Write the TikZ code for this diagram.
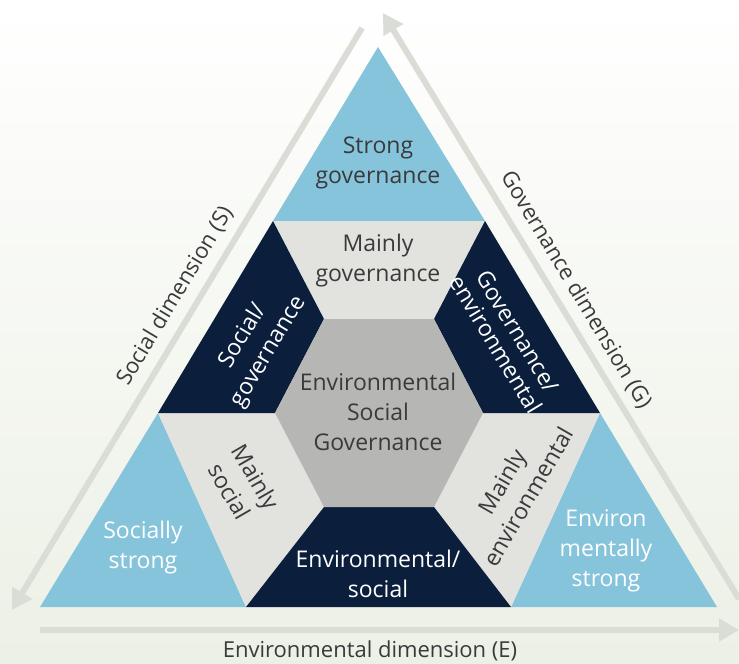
\documentclass[tikz,border=0pt]{standalone}
\usepackage{fontspec}
\setmainfont{Open Sans}
\usepackage{tikz}
\usetikzlibrary{arrows.meta,positioning}
\definecolor{cornerblue}{RGB}{134,196,219}
\definecolor{navy}{RGB}{11,31,60}
\definecolor{palegray}{RGB}{226,227,223}
\definecolor{hexgray}{RGB}{182,183,180}
\definecolor{txtgray}{RGB}{58,58,58}
\definecolor{axisgray}{RGB}{218,221,214}
\definecolor{bgbottom}{RGB}{236,240,229}
\tikzstyle{cell} = [align=center, inner sep=0pt, font=\fontsize{11.5}{15}\selectfont]
\tikzstyle{darktxt} = [cell, text=txtgray]
\tikzstyle{whitetxt} = [cell, text=white]
\tikzstyle{tight} = [font=\fontsize{11.5}{12.5}\selectfont]
\tikzstyle{dimlbl} = [inner sep=0pt, text=txtgray, font=\fontsize{11}{13}\selectfont]
\tikzstyle{axis} = [draw=axisgray, line width=3pt, -{Triangle[length=10pt,width=11pt]}]

\begin{document}
\begin{tikzpicture}[x=0.5pt,y=-0.5pt]
\useasboundingbox (0,0) rectangle (739,664);
\shade [top color=white, bottom color=bgbottom] (0,0) rectangle (739,664);

% corners
\fill [cornerblue] (378,47) -- (273,221) -- (485,221) -- cycle;
\fill [cornerblue] (158,413) -- (40,607) -- (246,607) -- cycle;
\fill [cornerblue] (600,413) -- (511,607) -- (717,607) -- cycle;

% mainly ...
\fill [palegray] (273,221) -- (485,221) -- (434,319) -- (324,319) -- cycle;
\fill [palegray] (158,413) -- (275,413) -- (324,507) -- (246,607) -- cycle;
\fill [palegray] (600,413) -- (483,413) -- (434,507) -- (511,607) -- cycle;

% mixed
\fill [navy] (158,413) -- (273,221) -- (324,319) -- (275,413) -- cycle;
\fill [navy] (485,221) -- (600,413) -- (483,413) -- (434,319) -- cycle;
\fill [navy] (324,507) -- (434,507) -- (511,607) -- (246,607) -- cycle;

\fill [hexgray] (324,319) -- (434,319) -- (483,413) -- (434,507) -- (324,507) -- (275,413) -- cycle;

\node [darktxt] (strongG) at (378,163) {Strong\\governance};
\node [darktxt] (mainG) at (378,261) {Mainly\\governance};
\node [whitetxt,rotate=59] (SG) at (256,344) {Social/\\governance};
\node [whitetxt,tight,rotate=-59] (GE) at (507,338) {Governance/\\environmental};
\node [darktxt] (esg) at (378,412) {Environmental\\Social\\Governance};
\node [darktxt,rotate=-60] (mainS) at (243,484) {Mainly\\social};
\node [darktxt,rotate=60] (mainE) at (515,489) {Mainly\\environmental};
\node [whitetxt] (ES) at (378,574) {Environmental/\\social};
\node [whitetxt] (strongS) at (143,548) {Socially\\strong};
\node [whitetxt] (strongE) at (606,551) {Environ\\mentally\\strong};

\coordinate (s0) at (362,28);
\coordinate (s1) at (12,610);
\coordinate (g0) at (739,599);
\coordinate (g1) at (383,13);
\coordinate (e0) at (40,630);
\coordinate (e1) at (739,630);

\draw [axis] (s0) -- (s1);
\draw [axis] (g0) -- (g1);
\draw [axis] (e0) -- (e1);

\node [dimlbl,rotate=59] (dimS) at (175,296) {Social dimension (S)};
\node [dimlbl,rotate=-59] (dimG) at (576,290) {Governance dimension (G)};
\node [dimlbl] (dimE) at (370,651) {Environmental dimension (E)};
\end{tikzpicture}
\end{document}
